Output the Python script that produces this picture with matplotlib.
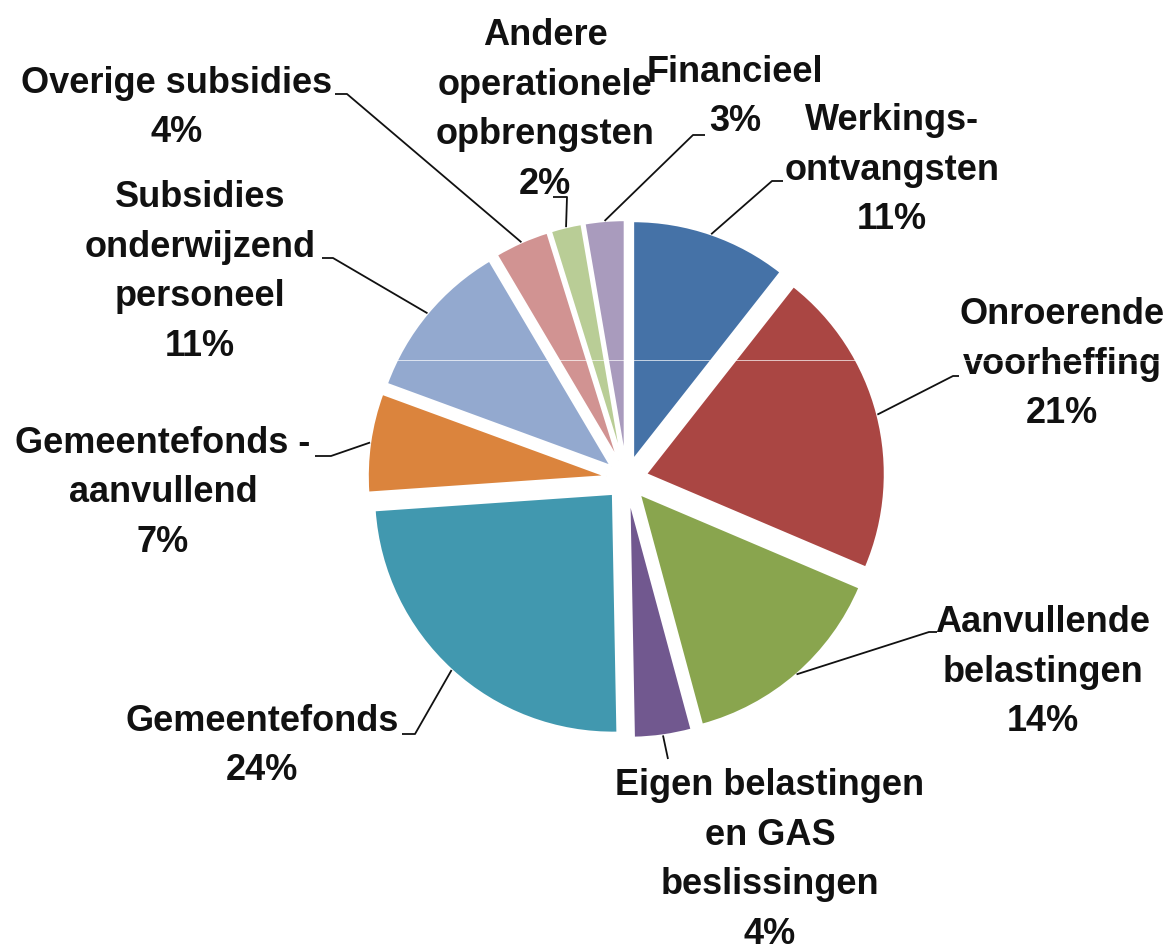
import matplotlib
matplotlib.use("Agg")
import matplotlib.pyplot as plt
import numpy as np

# ---- data (clockwise from 12 o'clock) ----
categories = [
    "Werkings-\nontvangsten",
    "Onroerende\nvoorheffing",
    "Aanvullende\nbelastingen",
    "Eigen belastingen\nen GAS\nbeslissingen",
    "Gemeentefonds",
    "Gemeentefonds -\naanvullend",
    "Subsidies\nonderwijzend\npersoneel",
    "Overige subsidies",
    "Andere\noperationele\nopbrengsten",
    "Financieel",
]
values = [10.6, 20.8, 14.4, 3.9, 24.2, 6.7, 10.9, 3.7, 2.1, 2.7]
colors = ["#4572A7", "#AA4643", "#89A54E", "#71588F", "#4198AF",
          "#DB843D", "#93A9CF", "#D19392", "#B9CD96", "#A99BBD"]

# ---- layout (pixel coordinates, y measured from top) ----
W, H = 1172, 953
center_px = (626.5, 480)
radius_px = 239
explode_px = 20

# text block centres
label_pos = [(892, 170), (1062, 364), (1043, 672), (770, 860), (262, 746),
             (163, 493), (200, 272), (177, 108), (545, 110), (735, 97)]
# leader elbows and horizontal ends (None = no horizontal part)
elbows = [(772, 182), (953, 377), (929, 633), (668, 760), (415, 735),
          (331, 457), (333, 259), (347, 95), (567, 198), (693, 136)]
ends = [(783, 182), (959, 377), (937, 633), None, (402, 735),
        (315, 457), (322, 259), (335, 95), (553, 198), (705, 136)]


def P(x, y):
    return x, H - y


fig = plt.figure(figsize=(W / 100, H / 100), dpi=100)
ax = fig.add_axes([0, 0, 1, 1])

wedges, _ = ax.pie(values, colors=colors, startangle=90, counterclock=False,
                   radius=radius_px, center=P(*center_px),
                   explode=[explode_px] * len(values),
                   wedgeprops=dict(edgecolor="white", linewidth=1.6),
                   frame=True)

total = sum(values)
font = dict(family=["Liberation Sans", "DejaVu Sans"], weight="bold", size=26)

for i, w in enumerate(wedges):
    thm = np.deg2rad((w.theta1 + w.theta2) / 2)
    ax_, ay_ = w.center
    arc = (ax_ + w.r * np.cos(thm), ay_ + w.r * np.sin(thm))
    pts = [arc, P(*elbows[i])]
    if ends[i] is not None:
        pts.append(P(*ends[i]))
    xs, ys = zip(*pts)
    ax.plot(xs, ys, color="#111111", lw=1.3, solid_capstyle="butt", zorder=3)
    pct = f"{values[i] / total * 100:.0f}%"
    ax.text(*P(*label_pos[i]), f"{categories[i]}\n{pct}", ha="center",
            va="center", multialignment="center", linespacing=1.55,
            color="#111111", **font)

# thin white scan line crossing the picture
ax.plot([0, W], [H - 361, H - 361], color="white", lw=0.6, alpha=0.8, zorder=5)

ax.set_xlim(0, W)
ax.set_ylim(0, H)
ax.set_aspect("auto")
ax.axis("off")

fig.savefig("out.png", dpi=100, facecolor="white")
